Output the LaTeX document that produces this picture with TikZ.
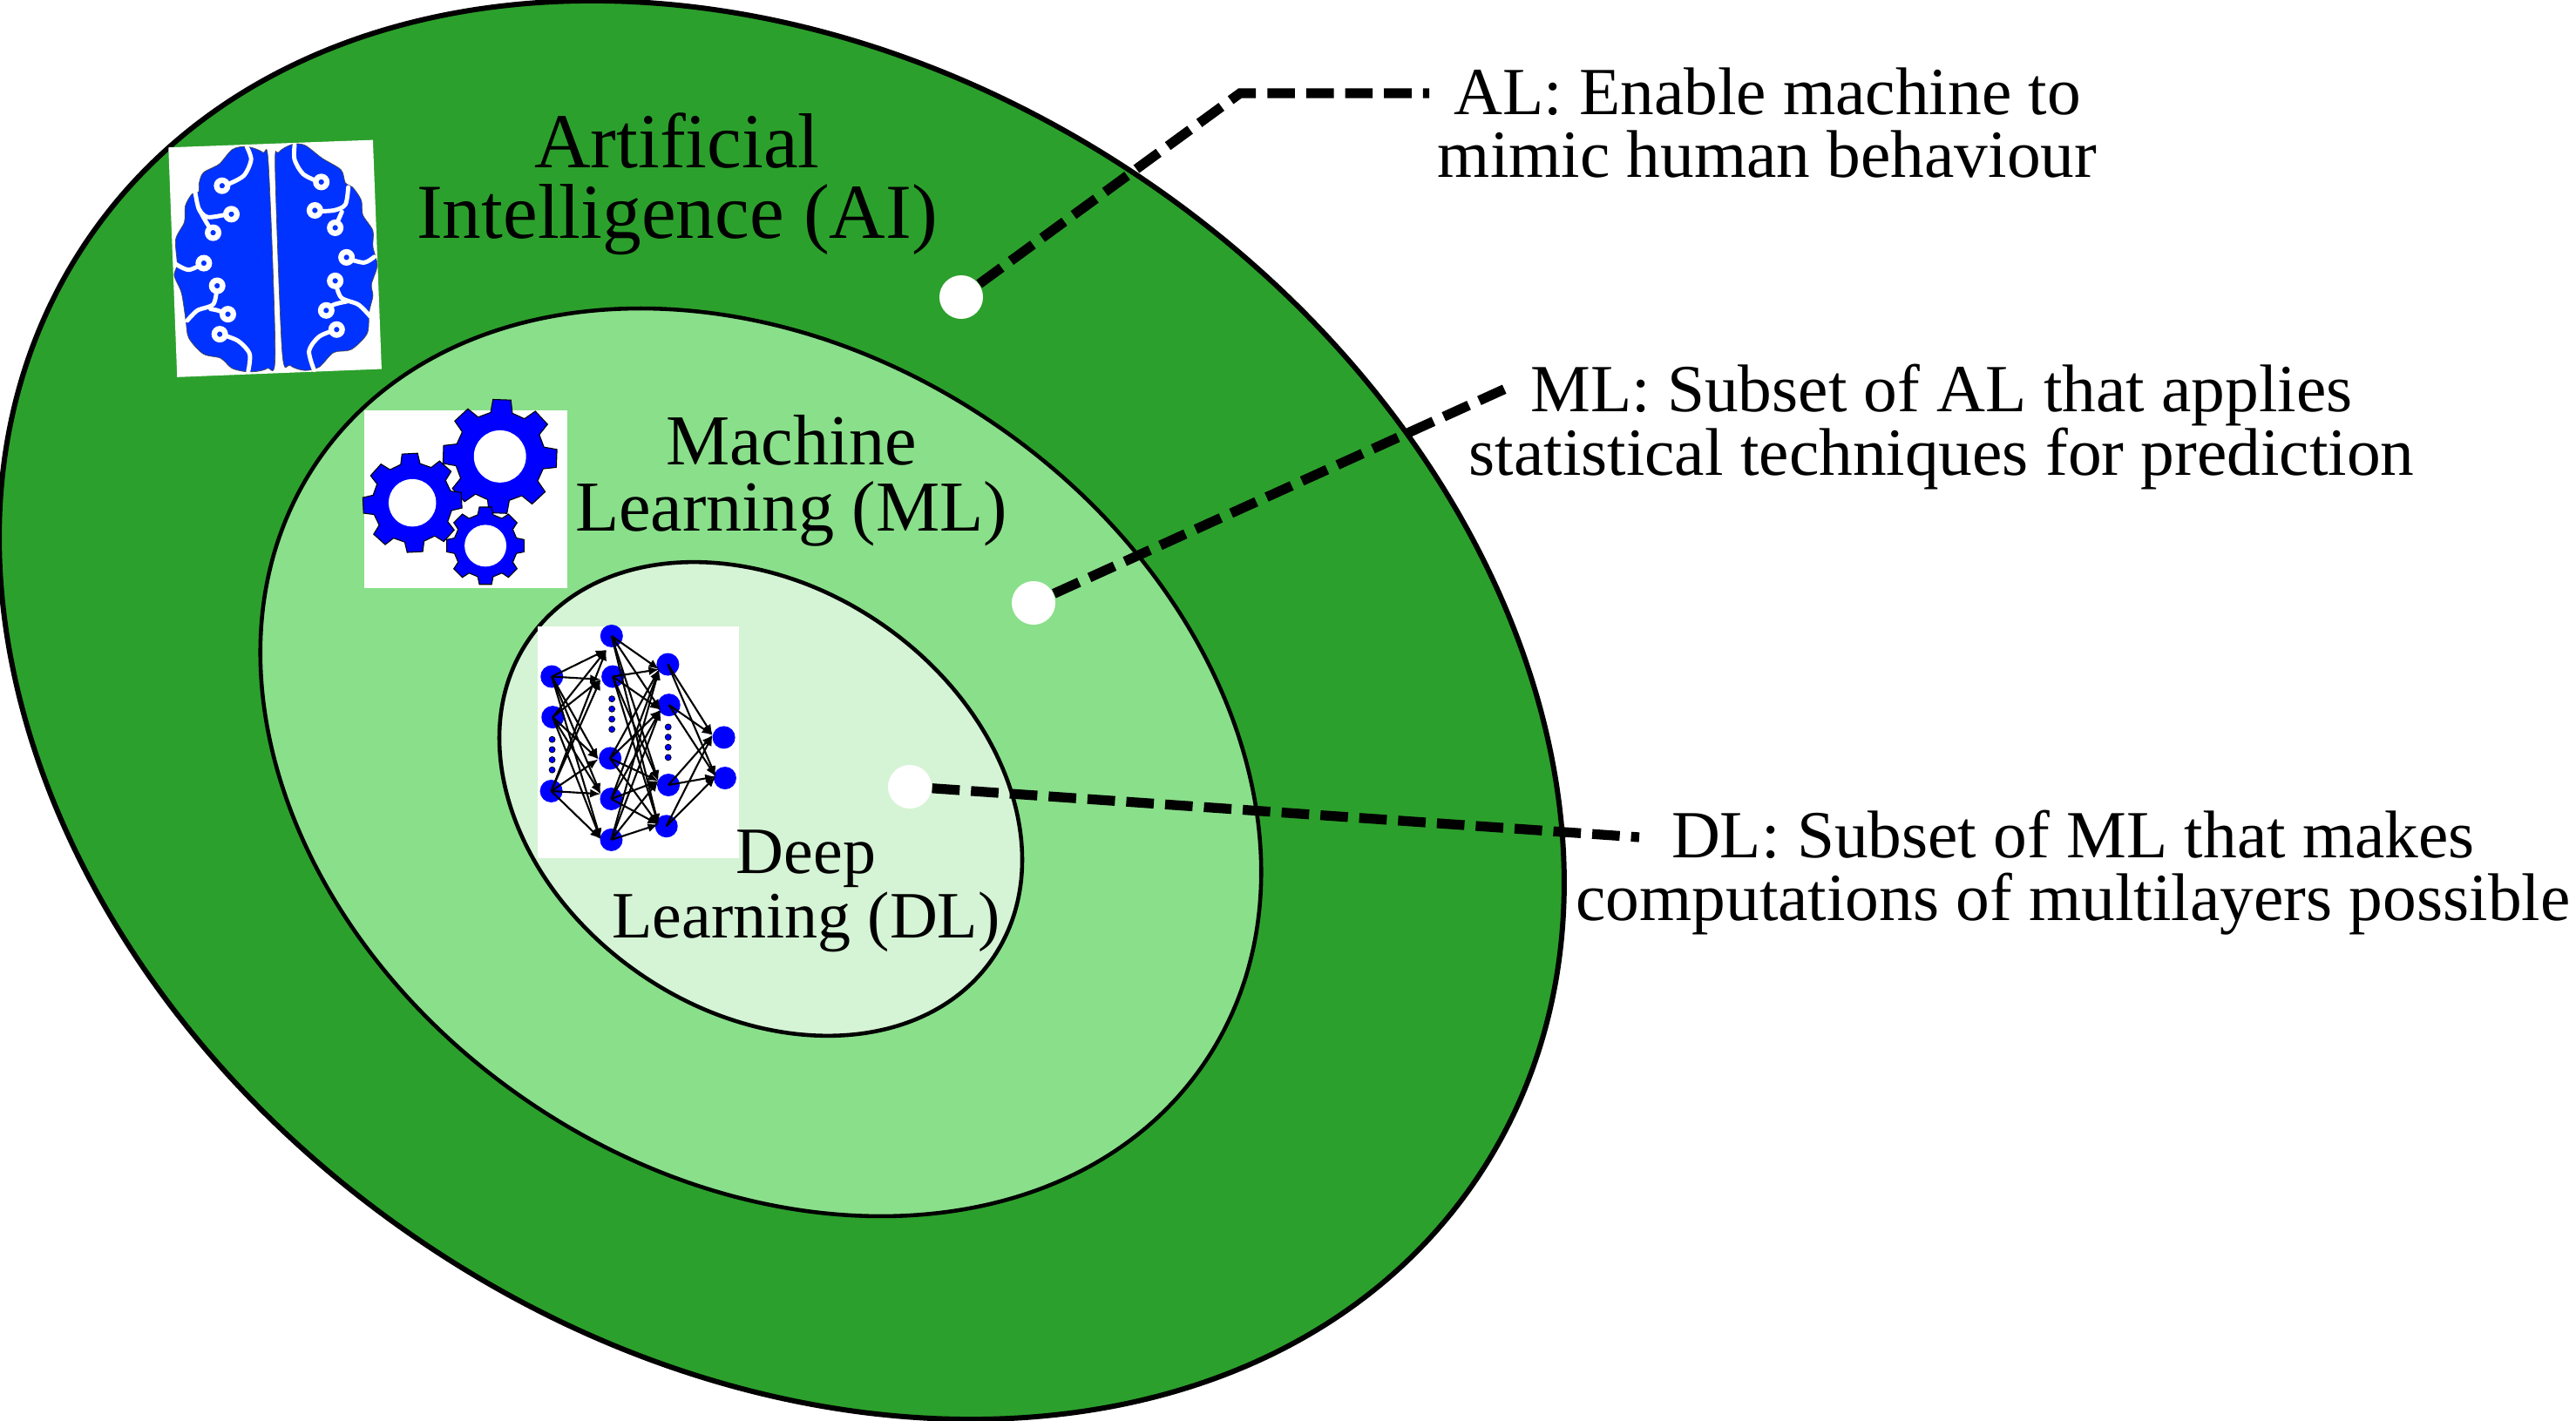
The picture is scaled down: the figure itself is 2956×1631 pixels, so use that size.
\documentclass[tikz,border=0pt]{standalone}
\usepackage{fontspec}
\setmainfont{Liberation Serif}
\usetikzlibrary{arrows.meta}
\definecolor{aigreen}{HTML}{2CA02C}
\definecolor{mlgreen}{HTML}{8ADF8A}
\definecolor{dlgreen}{HTML}{D5F3D5}
\definecolor{brainblue}{HTML}{0033FF}
\tikzset{
  area/.style={draw=black,line width=1.3pt},
  leader/.style={draw=black,line width=3.2pt,dash pattern=on 9pt off 3.7pt},
  whitedot/.style={circle,fill=white,inner sep=0pt,minimum size=0.5cm},
  biglabel/.style={align=center,font=\fontsize{25.4}{23}\selectfont},
  midlabel/.style={align=center,font=\fontsize{23.4}{21.6}\selectfont},
  smalllabel/.style={align=center,font=\fontsize{21.6}{21}\selectfont},
  notelabel/.style={align=center,font=\fontsize{22}{20.5}\selectfont},
  brainlobe/.style={fill=brainblue,draw=black!70,line width=0.2pt},
  trace/.style={draw=white,line width=1.4pt,line cap=round},
  gearshape/.style={fill=blue,draw=black,line width=0.3pt},
  netnode/.style={circle,fill=blue,inner sep=0pt,minimum size=0.26cm},
  netdot/.style={circle,fill=blue,draw=black,line width=0.2pt,inner sep=0pt,minimum size=0.07cm},
  netarrow/.style={->,draw=black,line width=0.6pt}
}
\begin{document}
\begin{tikzpicture}[>={Latex[length=1.2mm,width=1mm]},x=0.01cm,y=-0.01cm]
  \useasboundingbox (0,0) rectangle (2956,1631);
  \fill[white] (0,0) rectangle (2956,1631);
  \draw[area,line width=1.7pt,fill=aigreen,shift={(897,815)},rotate=-34] (0,0) ellipse [x radius=962,y radius=737];
  \draw[area,fill=mlgreen,shift={(873,875)},rotate=-34] (0,0) ellipse [x radius=615,y radius=472];
  \draw[area,fill=dlgreen,shift={(873,917)},rotate=-34.5] (0,0) ellipse [x radius=323,y radius=244];

  \begin{scope}[shift={(170,140)},x=0.00333cm,y=-0.00333cm]
    \fill[white] (70,88) -- (775,62) -- (805,852) -- (100,880) -- cycle;
    \draw[brainlobe] plot[smooth cycle] coordinates {(340,85) (290,95) (245,145) (190,175) (175,215) (175,240) (150,250) (128,290) (125,345) (95,405) (100,490) (90,530) (115,590) (130,685) (140,745) (190,800) (250,815) (290,850) (350,862) (410,850) (438,800) (415,150) (395,105)};
    \draw[brainlobe] plot[smooth cycle] coordinates {(495,78) (540,80) (600,125) (665,165) (680,210) (705,225) (735,270) (740,320) (775,375) (775,430) (790,495) (770,560) (775,600) (762,655) (755,730) (700,785) (640,795) (590,845) (540,857) (490,840) (462,790) (438,160) (450,105)};
    \draw[trace] plot[smooth] coordinates {(340,85) (355,130) (330,185) (275,215)};
    \draw[trace] plot[smooth] coordinates {(162,240) (175,300) (205,328) (265,320)};
    \draw[trace] plot[smooth] coordinates {(175,300) (200,345) (222,380)};
    \draw[trace] plot[smooth] coordinates {(95,490) (140,510) (190,488)};
    \draw[trace] plot[smooth] coordinates {(135,685) (170,650) (225,628) (238,565)};
    \draw[trace] plot[smooth] coordinates {(215,645) (240,650) (275,663)};
    \draw[trace] plot[smooth] coordinates {(250,732) (310,755) (350,800) (345,860)};
    \draw[trace] plot[smooth] coordinates {(505,80) (505,130) (535,180) (590,207)};
    \draw[trace] plot[smooth] coordinates {(690,225) (680,285) (640,305) (580,308)};
    \draw[trace] plot[smooth] coordinates {(668,310) (655,340) (645,365)};
    \draw[trace] plot[smooth] coordinates {(780,465) (745,485) (690,472)};
    \draw[trace] plot[smooth] coordinates {(645,548) (665,605) (725,630) (765,670)};
    \draw[trace] plot[smooth] coordinates {(610,650) (640,630) (690,618)};
    \draw[trace] plot[smooth] coordinates {(650,716) (590,740) (555,790) (572,855)};
    \foreach \cx/\cy in {255/220,287/318,224/382,192/487,238/565,275/663,247/732,597/207,575/305,645/365,684/467,645/548,614/650,650/716}
      \draw[draw=white,fill=brainblue,line width=1.8pt] (\cx,\cy) circle [radius=19];
  \end{scope}

  \begin{scope}[shift={(400,450)},x=0.00333cm,y=-0.00333cm]
    \fill[white] (55,62) rectangle (755,675);
    \foreach \cx/\cy/\rh/\rb/\ro/\rot in {522/222/90/155/198/2,220/382/82/138/172/-3,472/530/72/110/135/0}{
      \filldraw[gearshape,shift={(\cx,\cy)}] ({\rot-14}:\rb)
        \foreach \t in {0,45,...,315} { -- ({\rot+\t-14}:\rb) -- ({\rot+\t-9}:\ro) -- ({\rot+\t+9}:\ro) -- ({\rot+\t+14}:\rb) } -- cycle;
      \fill[white] (\cx,\cy) circle [radius=\rh];
    }
  \end{scope}

  \begin{scope}[shift={(590,700)},x=0.00333cm,y=-0.00333cm]
    \fill[white] (80,57) rectangle (775,855);
    \foreach \nm/\cx/\cy in {ina/130/230,inb/133/370,inc/128/625,
      hida/336/90,hidb/340/230,hidc/331/512,hidd/335/652,hide/335/793,
      hifa/530/188,hifb/534/328,hifc/532/604,hifd/525/746,
      outa/723/440,outb/727/580}
      \node[netnode] (\nm) at (\cx,\cy) {};
    \foreach \cx/\ya/\yb/\yc/\yd in {131/447/482/517/552,337/307/342/377/412,531/404/439/474/509}{
      \node[netdot] (dot\cx a) at (\cx,\ya) {};
      \node[netdot] (dot\cx b) at (\cx,\yb) {};
      \node[netdot] (dot\cx c) at (\cx,\yc) {};
      \node[netdot] (dot\cx d) at (\cx,\yd) {};
    }
    \coordinate (tohida) at (318,138);
    \coordinate (tohidb) at (298,240);
    \coordinate (tohidc) at (290,515);
    \coordinate (tohidd) at (298,635);
    \coordinate (tohide) at (298,790);
    \coordinate (tohifa) at (500,205);
    \coordinate (tohifb) at (505,345);
    \coordinate (tohifc) at (497,590);
    \coordinate (tohifd) at (497,740);
    \coordinate (tooutb) at (695,575);
    \coordinate (toouta) at (684,432);
    \foreach \from in {ina,inb,inc}
      \foreach \to in {tohida,tohidb,tohidc,tohidd,tohide}
        \draw[netarrow] (\from.center) -- (\to);
    \foreach \from in {hida,hidb,hidc,hidd,hide}
      \foreach \to in {tohifa,tohifb,tohifc,tohifd}
        \draw[netarrow] (\from.center) -- (\to);
    \foreach \from in {hifa,hifb,hifc,hifd}
      \foreach \to in {toouta,tooutb}
        \draw[netarrow] (\from.center) -- (\to);
  \end{scope}

  \node[biglabel] (ailabel) at (777,211) {Artificial\\Intelligence (AI)};
  \node[midlabel] (mllabel) at (908,552) {Machine\\Learning (ML)};
  \node[smalllabel] (dllabel) at (925,1023) {Deep\\Learning (DL)};

  \node[whitedot] (aidot) at (1103,341) {};
  \node[whitedot] (mldot) at (1186,692) {};
  \node[whitedot] (dldot) at (1044,903) {};
  \coordinate (aibend) at (1423,107);
  \coordinate (aiend) at (1640,107);
  \coordinate (mlend) at (1730,445);
  \coordinate (dlend) at (1881,961);
  \draw[leader] (aidot) -- (aibend) -- (aiend);
  \draw[leader] (mldot) -- (mlend);
  \draw[leader] (dldot) -- (dlend);

  \node[notelabel] (ainote) at (2028,141) {AL: Enable machine to\\mimic human behaviour};
  \node[notelabel] (mlnote) at (2228,490) {ML: Subset of AL that applies\\statistical techniques for prediction};
  \node[notelabel] (dlnote) at (2379,1002) {DL: Subset of ML that makes\\computations of multilayers possible};
\end{tikzpicture}
\end{document}
